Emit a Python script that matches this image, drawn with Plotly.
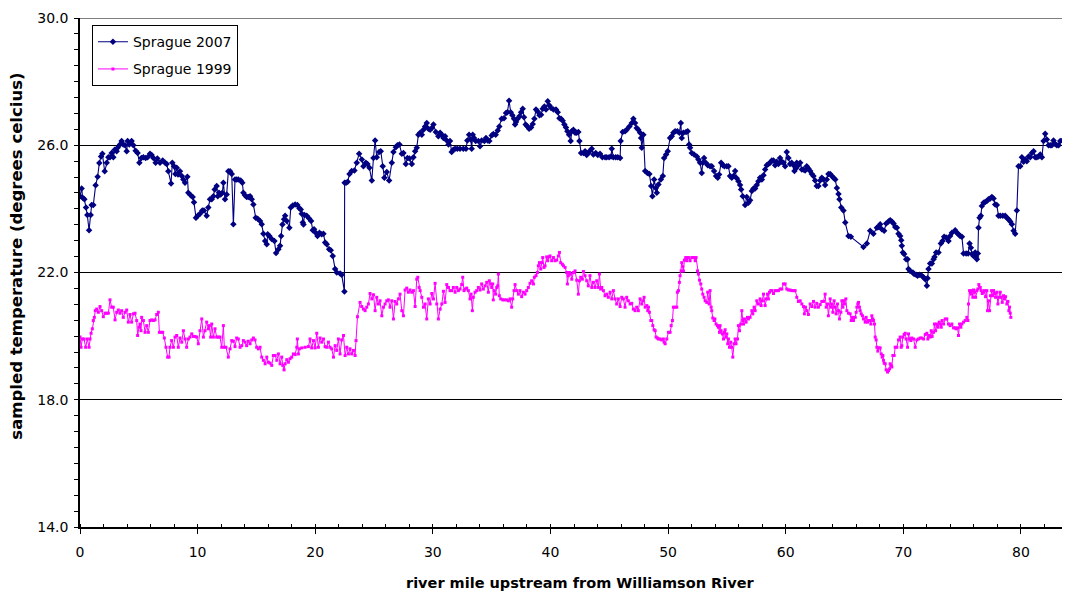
import plotly.graph_objects as go

# ---------------- data ----------------
miles_2007 = [
    0.0, 0.14, 0.23, 0.37, 0.51, 0.62, 0.77, 0.91, 0.99, 1.13, 1.33, 1.50, 1.64, 1.79, 1.90, 2.10, 2.27, 2.41, 2.55, 2.69,
    2.83, 2.95, 3.12, 3.20, 3.40, 3.54, 3.68, 3.83, 3.97, 4.05, 4.19, 4.39, 4.54, 4.73, 4.90, 5.05, 5.22, 5.39, 5.58, 5.75,
    5.95, 6.09, 6.24, 6.43, 6.58, 6.80, 7.03, 7.23, 7.37, 7.51, 7.74, 7.85, 7.99, 8.11, 8.22, 8.33, 8.50, 8.65, 8.79, 8.93,
    9.13, 9.21, 9.41, 9.58, 9.69, 9.86, 10.01, 10.20, 10.40, 10.54, 10.77, 10.91, 11.05, 11.20, 11.34, 11.45, 11.62, 11.71, 11.82, 11.96,
    12.10, 12.19, 12.33, 12.47, 12.61, 12.76, 12.90, 13.04, 13.18, 13.32, 13.46, 13.66, 13.80, 13.89, 14.03, 14.17, 14.31, 14.46, 14.60, 14.74,
    14.94, 15.11,
    15.31, 15.45, 15.59, 15.74, 15.88, 15.96, 16.10, 16.30, 16.53, 16.67, 16.87, 17.01, 17.10, 17.21, 17.35, 17.44, 17.58, 17.80, 17.92, 18.09,
    18.29, 18.48, 18.65, 18.77, 18.85, 18.94, 19.00, 19.08, 19.28, 19.48, 19.65, 19.79, 19.90, 20.04, 20.19, 20.36, 20.55, 20.70, 20.84, 20.98,
    21.18, 21.32, 21.49, 21.69, 21.83, 22.11, 22.25, 22.48, 22.50, 22.62, 22.76, 22.91, 23.10, 23.33, 23.53, 23.73, 23.96, 24.10, 24.30, 24.44,
    24.61, 24.81, 24.95, 25.09, 25.23, 25.43, 25.57, 25.74, 25.88, 26.08, 26.28, 26.51, 26.65, 26.85, 26.99, 27.16, 27.36, 27.50, 27.70, 27.84,
    28.01, 28.21, 28.35, 28.49, 28.63, 28.77, 28.92, 29.06, 29.20, 29.34, 29.48, 29.62, 29.77, 29.91, 30.05, 30.25, 30.47, 30.62, 30.76, 30.90,
    31.04, 31.18, 31.33,
    31.46, 31.60, 31.74, 31.89, 32.08, 32.31, 32.59, 32.82, 32.93, 33.08, 33.22, 33.30, 33.39, 33.50, 33.64, 33.87, 34.01, 34.15, 34.38, 34.52,
    34.66, 34.80, 35.00, 35.14, 35.34, 35.51, 35.65, 35.85, 36.05, 36.22, 36.34, 36.48, 36.62, 36.76, 36.90, 36.99, 37.07, 37.21, 37.36, 37.50,
    37.64, 37.75, 37.89, 38.04, 38.18, 38.35, 38.49, 38.63, 38.77, 38.91, 39.06, 39.20, 39.34, 39.48, 39.62, 39.77, 39.91, 40.05, 40.25, 40.47,
    40.62, 40.76, 40.90, 41.04, 41.18, 41.32, 41.44, 41.58, 41.72, 41.81, 41.95, 42.09, 42.23, 42.37, 42.46, 42.60, 42.80, 42.94, 43.08, 43.22,
    43.36, 43.51, 43.65, 43.85, 44.02, 44.21, 44.41, 44.64, 44.78, 44.98, 45.15, 45.21, 45.35, 45.55, 45.72, 45.92, 45.97, 46.14, 46.34, 46.48,
    46.71, 46.91, 47.05, 47.19, 47.33, 47.47, 47.62, 47.70,
    47.76, 47.90, 48.05, 48.24, 48.41, 48.56, 48.67, 48.81, 48.95, 49.04, 49.18, 49.38, 49.55, 49.66, 49.83, 49.97, 50.17, 50.31, 50.45, 50.60,
    50.79, 50.96, 51.08, 51.16, 51.30, 51.53, 51.67, 51.79, 51.87, 52.01, 52.21, 52.44, 52.58, 52.72, 52.86, 52.95, 53.06, 53.20, 53.37, 53.57,
    53.71, 53.91, 54.08, 54.22, 54.34, 54.51, 54.65, 54.79, 54.99, 55.13, 55.27, 55.41, 55.56, 55.70, 55.84, 55.98, 56.12, 56.21, 56.35, 56.55,
    56.69, 56.83, 56.97, 57.12, 57.26, 57.40, 57.54, 57.68, 57.82, 57.97, 58.11, 58.25, 58.39, 58.53, 58.67, 58.82, 58.96, 59.10, 59.24, 59.38,
    59.52, 59.67, 59.81, 59.95, 60.09, 60.23, 60.37, 60.51, 60.66, 60.74, 60.86, 60.94, 61.08, 61.23, 61.37, 61.51, 61.65, 61.79, 61.93, 62.08,
    62.22, 62.36, 62.50, 62.64, 62.78, 62.93, 63.07, 63.21, 63.35, 63.49, 63.63,
    63.78, 63.92, 64.06, 64.21, 64.35, 64.49, 64.57, 64.72, 64.91, 65.06, 65.34, 65.54, 66.61, 66.90, 67.18, 67.46, 67.75, 67.89, 68.03, 68.17,
    68.37, 68.54, 68.74, 68.88, 69.02, 69.17, 69.31, 69.45, 69.59, 69.73, 69.82, 69.87, 69.96, 70.07, 70.24, 70.36, 70.44, 70.58, 70.81, 70.92,
    71.09, 71.21, 71.38, 71.57, 71.72, 71.86, 72.00, 72.06, 72.14, 72.28, 72.43, 72.57, 72.65, 72.79, 72.99, 73.19, 73.33, 73.47, 73.64, 73.84,
    73.98, 74.13, 74.41, 74.55, 74.69, 74.83, 74.98, 75.12, 75.34, 75.51, 75.63, 75.74, 75.83, 75.97, 76.11, 76.19, 76.25, 76.34, 76.39, 76.48,
    76.59, 76.68, 76.82, 76.96, 77.10, 77.24, 77.39, 77.53, 77.67, 77.81, 77.95, 78.09, 78.24, 78.46, 78.66, 78.80, 78.94, 79.09, 79.23, 79.37,
    79.51, 79.65, 79.79, 79.94, 80.08, 80.22, 80.36, 80.50, 80.65, 80.79, 80.93, 81.07, 81.21, 81.35, 81.50, 81.64, 81.78, 81.92, 82.06, 82.20,
    82.35, 82.49, 82.63, 82.77, 82.91, 83.05, 83.20, 83.34, 83.54,
]

temp_2007 = [
    24.40, 24.64, 24.35, 24.30, 24.04, 23.81, 23.33, 23.81, 24.12, 24.12, 24.74, 25.01, 25.44, 25.65, 25.73, 25.18, 25.45, 25.62, 25.62, 25.76,
    25.62, 25.86, 25.81, 25.92, 26.02, 26.13, 26.02, 26.00, 25.81, 26.13, 26.02, 26.13, 26.00, 25.83, 25.76, 25.45, 25.60, 25.62, 25.60, 25.62,
    25.73, 25.69, 25.60, 25.45, 25.58, 25.45, 25.52, 25.45, 25.41, 25.18, 24.80, 25.45, 25.34, 25.10, 25.29, 25.08, 25.18, 25.03, 24.92, 24.82,
    25.01, 24.51, 24.43, 24.37, 24.21, 23.72, 23.78, 23.85, 23.95, 23.95, 23.78, 24.04, 24.30, 24.30, 24.40, 24.61, 24.72, 24.40, 24.51, 24.45,
    24.51, 24.82, 24.30, 24.45, 25.18, 25.18, 25.10, 23.52, 24.92, 24.92, 24.92, 24.89, 24.82, 24.51, 24.43, 24.37, 24.37, 24.40, 24.30, 24.14,
    23.72, 23.69,
    23.62, 23.52, 23.22, 22.99, 22.89, 23.20, 23.15, 23.05, 22.99, 22.61, 22.73, 22.84, 23.15, 23.51, 23.67, 23.78, 23.62, 23.41, 24.04, 24.11,
    24.14, 24.12, 24.02, 23.98, 23.85, 23.57, 23.51, 23.81, 23.78, 23.70, 23.62, 23.33, 23.36, 23.25, 23.15, 23.25, 23.20, 23.22, 22.94, 22.89,
    22.73, 22.70, 22.52, 22.11, 22.00, 21.97, 21.93, 21.40, 24.82, 24.82, 24.85, 25.10, 25.19, 25.21, 25.45, 25.73, 25.55, 25.34, 25.45, 25.41,
    25.29, 24.89, 25.60, 26.15, 25.62, 25.79, 25.81, 25.34, 24.98, 25.16, 24.89, 25.45, 25.79, 25.94, 26.00, 26.02, 25.73, 25.76, 25.41, 25.60,
    25.58, 25.41, 25.62, 25.81, 25.92, 26.33, 26.39, 26.33, 26.49, 26.59, 26.70, 26.52, 26.49, 26.54, 26.65, 26.42, 26.28, 26.39, 26.33, 26.23,
    26.28, 26.15, 26.02,
    26.13, 25.79, 25.86, 25.89, 25.89, 25.89, 25.89, 25.89, 26.15, 26.33, 26.18, 25.89, 26.33, 26.23, 26.13, 26.13, 25.97, 26.15, 26.13, 26.23,
    26.15, 26.13, 26.31, 26.35, 26.33, 26.46, 26.59, 26.83, 26.85, 27.01, 27.04, 27.40, 27.04, 26.94, 26.83, 26.65, 26.73, 26.83, 26.91, 27.04,
    27.15, 26.88, 26.65, 26.59, 26.52, 26.56, 26.67, 26.83, 27.12, 27.06, 26.94, 26.96, 27.15, 27.22, 27.12, 27.38, 27.25, 27.17, 27.12, 27.12,
    27.04, 26.85, 26.83, 26.77, 26.65, 26.56, 26.44, 26.33, 26.13, 26.44, 26.49, 26.39, 26.39, 26.42, 26.13, 25.76, 25.76, 25.81, 25.69, 25.76,
    25.83, 25.89, 25.71, 25.76, 25.69, 25.73, 25.62, 25.62, 25.62, 25.62, 25.65, 25.89, 25.62, 25.62, 25.62, 25.60, 26.13, 26.42, 26.44, 26.49,
    26.59, 26.70, 26.83, 26.70, 26.54, 26.49, 26.39, 26.23,
    25.92, 26.33, 25.19, 25.13, 25.10, 24.72, 24.40, 24.92, 24.66, 24.51, 24.77, 24.92, 25.03, 25.60, 25.71, 25.81, 26.23, 26.28, 26.39, 26.44,
    26.44, 26.39, 26.70, 26.23, 26.39, 26.42, 26.44, 26.02, 25.92, 25.76, 25.71, 25.65, 25.55, 25.45, 25.13, 25.45, 25.60, 25.45, 25.37, 25.34,
    25.34, 25.19, 25.03, 24.98, 25.08, 25.45, 25.37, 25.34, 25.34, 25.34, 25.03, 24.98, 25.03, 25.19, 24.96, 24.87, 24.75, 24.61, 24.40, 24.12,
    24.37, 24.19, 24.27, 24.56, 24.64, 24.64, 24.75, 24.87, 24.98, 24.92, 25.06, 25.24, 25.37, 25.41, 25.45, 25.52, 25.52, 25.37, 25.48, 25.41,
    25.60, 25.48, 25.45, 25.34, 25.79, 25.60, 25.41, 25.45, 25.37, 25.19, 25.27, 25.45, 25.37, 25.45, 25.24, 25.24, 25.21, 25.34, 25.27, 25.19,
    25.10, 25.03, 24.89, 24.72, 24.72, 24.89, 24.98, 24.92, 24.75, 24.92, 25.10,
    25.10, 25.03, 24.98, 24.92, 24.66, 24.47, 24.30, 24.04, 23.95, 23.57, 23.15, 23.12, 22.80, 22.91, 23.31, 23.22, 23.41, 23.43, 23.52, 23.36,
    23.31, 23.54, 23.60, 23.64, 23.60, 23.54, 23.43, 23.41, 23.22, 23.15, 23.01, 22.84, 22.63, 22.58, 22.42, 22.42, 22.11, 22.05, 22.00, 21.95,
    21.93, 21.90, 21.93, 21.90, 21.85, 21.79, 21.58, 21.82, 22.11, 22.28, 22.28, 22.42, 22.49, 22.63, 22.63, 22.91, 22.99, 23.12, 23.10, 22.99,
    23.15, 23.25, 23.33, 23.25, 23.20, 23.15, 23.12, 22.60, 22.60, 22.60, 22.91, 22.78, 22.58, 22.52, 22.63, 22.49, 22.42, 22.60, 23.41, 23.72,
    23.78, 24.09, 24.19, 24.22, 24.25, 24.30, 24.33, 24.37, 24.33, 24.14, 24.12, 23.78, 23.78, 23.78, 23.78, 23.72, 23.67, 23.60, 23.52, 23.31,
    23.22, 23.95, 25.34, 25.34, 25.62, 25.48, 25.55, 25.50, 25.65, 25.62, 25.76, 25.81, 25.62, 25.62, 25.65, 25.71, 25.62, 26.13, 26.36, 26.18,
    26.00, 26.00, 26.00, 26.15, 26.04, 26.00, 26.00, 26.13, 26.15,
]

miles_1999 = [
    0.00, 0.09, 0.20, 0.34, 0.48, 0.62, 0.77, 0.85, 0.94, 1.05, 1.13, 1.22, 1.30, 1.42, 1.56, 1.70, 1.84, 1.98, 2.13, 2.27,
    2.41, 2.55, 2.69, 2.83, 2.98, 3.12, 3.26, 3.40, 3.54, 3.68, 3.83, 3.97, 4.11, 4.25, 4.39, 4.54, 4.68, 4.82, 4.90, 5.02,
    5.10, 5.19, 5.24, 5.39, 5.53, 5.67, 5.81, 5.95, 6.09, 6.24, 6.38, 6.52, 6.66, 6.75, 6.89, 7.03, 7.17, 7.31, 7.45, 7.57,
    7.65, 7.79, 7.94, 8.08, 8.22, 8.36, 8.50, 8.65, 8.79, 8.93, 9.07, 9.21, 9.35, 9.50, 9.64, 9.78, 9.92, 10.06, 10.20, 10.35,
    10.49, 10.63, 10.77, 10.91, 11.00, 11.11, 11.20, 11.34, 11.48, 11.62, 11.76, 11.90, 12.05, 12.19, 12.27, 12.41, 12.61, 12.76, 12.90, 13.04,
    13.18, 13.32, 13.46, 13.61, 13.75, 13.89, 14.03, 14.17, 14.31, 14.46, 14.60, 14.74, 14.88, 15.02, 15.16, 15.31,
    15.45, 15.59, 15.74, 15.88, 16.02, 16.16, 16.30, 16.44, 16.59, 16.73, 16.87, 17.01, 17.15, 17.24, 17.35, 17.44, 17.58, 17.72, 17.86, 18.00,
    18.14, 18.29, 18.43, 18.48, 18.57, 18.65, 18.85, 19.14, 19.42, 19.56, 19.70, 19.85, 19.99, 20.13, 20.27, 20.41, 20.55, 20.70, 20.84, 20.98,
    21.12, 21.26, 21.40, 21.55, 21.69, 21.83, 21.97, 22.11, 22.25, 22.40, 22.54, 22.68, 22.82, 22.96, 23.10, 23.25, 23.39, 23.47, 23.59, 23.81,
    23.95, 24.10, 24.24, 24.38, 24.52, 24.66, 24.81, 24.95, 25.09, 25.23, 25.37, 25.51, 25.66, 25.80, 25.94, 26.08, 26.22, 26.36, 26.51, 26.65,
    26.79, 26.93, 27.07, 27.21, 27.36, 27.50, 27.64, 27.78, 27.92, 28.06, 28.21, 28.35, 28.49, 28.63, 28.72, 28.83, 28.92, 29.06, 29.20, 29.34,
    29.48, 29.62, 29.77, 29.91, 30.05, 30.19, 30.33, 30.47, 30.62, 30.76, 30.90, 31.04, 31.18, 31.33,
    31.46, 31.60, 31.74, 31.89, 32.03, 32.17, 32.31, 32.45, 32.54, 32.65, 32.74, 32.88, 33.02, 33.16, 33.25, 33.36, 33.44, 33.59, 33.73, 33.87,
    34.01, 34.15, 34.29, 34.44, 34.58, 34.72, 34.80, 34.92, 35.00, 35.09, 35.14, 35.23, 35.34, 35.43, 35.51, 35.57, 35.65, 35.77, 35.94, 36.08,
    36.28, 36.42, 36.56, 36.70, 36.79, 36.90, 36.99, 37.13, 37.27, 37.41, 37.55, 37.70, 37.84, 37.98, 38.12, 38.26, 38.40, 38.55, 38.63, 38.77,
    38.89, 38.97, 39.06, 39.17, 39.25, 39.34, 39.45, 39.54, 39.68, 39.76, 39.88, 39.96, 40.10, 40.25, 40.39, 40.53, 40.67, 40.76, 40.87, 41.01,
    41.10, 41.24, 41.38, 41.44, 41.52, 41.61, 41.72, 41.81, 41.95, 42.09, 42.23, 42.37, 42.46, 42.57, 42.71, 42.80, 42.94, 43.08, 43.22, 43.36,
    43.51, 43.65, 43.79, 43.93, 44.07, 44.16, 44.27, 44.36, 44.50, 44.64, 44.78, 44.92, 45.07, 45.21, 45.35, 45.49, 45.63, 45.77, 45.92, 46.06,
    46.20, 46.34, 46.48, 46.62, 46.77, 46.91, 47.05, 47.19, 47.33, 47.47,
    47.62, 47.76, 47.85, 47.96, 48.05, 48.19, 48.27, 48.33, 48.41, 48.53, 48.61, 48.70, 48.81, 48.90, 48.98, 49.09, 49.18, 49.32, 49.46, 49.60,
    49.66, 49.75, 49.89, 50.03, 50.17, 50.26, 50.37, 50.45, 50.60, 50.74, 50.79, 50.88, 50.96, 51.02, 51.11, 51.16, 51.25, 51.30, 51.39, 51.50,
    51.59, 51.73, 51.87, 52.01, 52.16, 52.30, 52.38, 52.50, 52.58, 52.67, 52.78, 52.86, 52.95, 53.06, 53.15, 53.29, 53.37, 53.49, 53.57, 53.66,
    53.71, 53.80, 53.91, 53.98, 54.08, 54.20, 54.28, 54.37, 54.42, 54.51, 54.62, 54.71, 54.79, 54.85, 54.93, 54.99, 55.07, 55.13, 55.22, 55.33,
    55.41, 55.50, 55.61, 55.70, 55.78, 55.90, 55.98, 56.07, 56.18, 56.27, 56.35, 56.41, 56.49, 56.63, 56.75, 56.83, 56.97, 57.12, 57.20, 57.31,
    57.40, 57.54, 57.68, 57.82, 57.91, 58.02, 58.11, 58.25, 58.33, 58.45, 58.53, 58.62, 58.73, 58.82, 58.96, 59.10, 59.24, 59.38, 59.52, 59.67,
    59.81, 59.95, 60.09, 60.23, 60.37, 60.51, 60.66, 60.80, 60.94, 61.08, 61.23, 61.37, 61.51, 61.59, 61.68, 61.79, 61.93, 62.08, 62.22, 62.36,
    62.50, 62.64, 62.78, 62.93, 63.07, 63.21, 63.35, 63.44, 63.55, 63.63,
    63.78, 63.87, 63.92, 64.01, 64.12, 64.21, 64.29, 64.40, 64.49, 64.57, 64.69, 64.77, 64.86, 64.91, 65.00, 65.11, 65.20, 65.34, 65.48, 65.57,
    65.68, 65.76, 65.91, 65.99, 66.05, 66.13, 66.19, 66.27, 66.33, 66.42, 66.53, 66.61, 66.76, 66.84, 66.95, 67.04, 67.18, 67.24, 67.32, 67.41,
    67.46, 67.55, 67.61, 67.69, 67.75, 67.83, 67.92, 68.03, 68.12, 68.20, 68.26, 68.31, 68.37, 68.46, 68.54, 68.66, 68.74, 68.83, 68.88, 68.97,
    69.02, 69.11, 69.22, 69.31, 69.45, 69.59, 69.73, 69.82, 69.87, 69.96, 70.07, 70.16, 70.24, 70.36, 70.44, 70.53, 70.64, 70.72, 70.87, 71.01,
    71.15, 71.29, 71.43, 71.57, 71.72, 71.86, 72.00, 72.08, 72.17, 72.28, 72.37, 72.45, 72.57, 72.65, 72.74, 72.85, 72.94, 73.05, 73.13, 73.22,
    73.30, 73.42, 73.56, 73.70, 73.84, 73.98, 74.13, 74.27, 74.41, 74.49, 74.61, 74.69, 74.78, 74.89, 74.98, 75.12, 75.26, 75.40, 75.49, 75.54,
    75.63, 75.69, 75.77, 75.83, 75.91, 75.97, 76.05, 76.14, 76.25, 76.34, 76.42, 76.54, 76.62, 76.71, 76.82, 76.90, 76.99, 77.10, 77.16, 77.24,
    77.33, 77.41, 77.50, 77.58, 77.67, 77.75, 77.84, 77.95, 78.04, 78.12, 78.24, 78.32, 78.41, 78.52, 78.60, 78.69, 78.80, 78.89, 78.97, 79.03,
    79.09, 79.14,
]

temp_1999 = [
    19.97, 19.65, 19.91, 19.91, 19.65, 19.91, 19.65, 19.91, 20.09, 20.23, 20.49, 20.59, 20.80, 20.85, 20.75, 20.93, 20.80, 20.61, 20.72, 20.72,
    20.72, 21.14, 20.91, 20.91, 20.51, 20.75, 20.82, 20.72, 20.80, 20.59, 20.75, 20.82, 20.44, 20.68, 20.44, 20.70, 20.72, 20.49, 20.02, 20.28,
    20.38, 20.17, 20.59, 20.49, 20.12, 20.33, 20.12, 20.49, 20.51, 20.49, 20.51, 20.68, 20.75, 20.12, 20.12, 20.12, 19.94, 19.65, 19.34, 19.34,
    19.65, 19.86, 19.65, 19.97, 20.02, 19.65, 19.94, 19.81, 20.17, 19.91, 19.65, 19.91, 19.97, 20.07, 19.99, 19.99, 19.97, 19.76, 20.17, 20.54,
    19.97, 20.17, 20.44, 20.23, 20.33, 19.97, 20.38, 19.97, 20.23, 19.97, 19.97, 19.97, 19.65, 20.33, 19.65, 19.65, 19.34, 19.60, 19.86, 19.84,
    19.67, 19.94, 19.91, 19.65, 19.70, 19.86, 19.81, 19.70, 19.84, 19.76, 19.88, 19.94, 19.88, 19.65, 19.60, 19.65,
    19.34, 19.24, 19.13, 19.34, 19.18, 19.15, 19.08, 19.39, 19.39, 19.24, 19.44, 19.13, 19.34, 19.08, 18.94, 19.13, 19.26, 19.18, 19.29, 19.34,
    19.44, 19.42, 19.65, 19.91, 19.44, 19.60, 19.63, 19.65, 19.67, 19.91, 19.63, 19.86, 19.63, 20.09, 19.65, 19.94, 19.81, 19.91, 19.67, 19.65,
    19.81, 19.65, 19.60, 19.34, 19.70, 19.55, 19.91, 19.44, 19.88, 20.02, 19.39, 19.65, 19.44, 19.60, 19.44, 19.55, 19.39, 19.86, 20.61, 21.06,
    20.93, 20.85, 20.80, 20.91, 21.01, 21.34, 21.17, 21.30, 20.80, 21.22, 21.01, 21.11, 20.64, 20.91, 21.01, 21.11, 21.14, 20.91, 21.11, 20.54,
    21.09, 21.01, 21.17, 21.32, 20.80, 20.64, 21.45, 21.51, 21.38, 21.45, 21.38, 21.43, 20.93, 21.79, 21.85, 21.53, 21.43, 21.22, 20.91, 21.01,
    20.54, 21.17, 21.01, 21.34, 21.17, 21.66, 21.01, 20.54, 20.85, 21.01, 21.41, 21.06, 21.62, 21.53,
    21.43, 21.43, 21.53, 21.38, 21.53, 21.43, 21.48, 21.62, 21.85, 21.43, 21.48, 21.51, 21.43, 21.17, 21.32, 20.80, 21.22, 21.38, 21.43, 21.53,
    21.45, 21.64, 21.48, 21.58, 21.69, 21.38, 21.74, 21.64, 21.53, 21.64, 21.14, 21.43, 21.32, 21.53, 21.58, 21.95, 21.27, 21.17, 21.14, 21.14,
    21.14, 21.11, 21.17, 20.91, 21.17, 21.43, 21.62, 21.43, 21.32, 21.43, 21.24, 21.38, 21.32, 21.43, 21.53, 21.66, 21.74, 21.64, 21.85, 21.90,
    22.00, 22.21, 22.31, 22.11, 22.31, 22.47, 22.16, 22.21, 22.49, 22.37, 22.49, 22.52, 22.37, 22.47, 22.37, 22.39, 22.52, 22.63, 22.31, 22.26,
    22.21, 22.16, 22.00, 21.64, 21.90, 22.00, 21.95, 21.79, 22.00, 22.05, 21.76, 21.32, 21.74, 21.85, 21.79, 22.03, 21.90, 21.74, 21.58, 21.90,
    21.53, 21.69, 21.53, 21.74, 21.53, 21.95, 21.48, 21.53, 21.43, 21.27, 21.32, 21.22, 21.38, 21.17, 21.43, 21.17, 21.01, 21.17, 20.93, 21.22,
    21.17, 20.91, 21.22, 21.11, 21.01, 21.03, 20.85, 20.80, 20.91, 20.80,
    21.17, 21.01, 21.11, 21.22, 20.91, 20.96, 20.80, 20.91, 20.75, 20.49, 20.49, 20.33, 20.20, 20.17, 19.97, 19.94, 19.91, 19.91, 19.88, 19.91,
    19.81, 19.76, 19.91, 20.12, 20.12, 20.33, 20.49, 20.91, 20.91, 20.91, 21.38, 21.43, 21.69, 21.90, 22.05, 22.31, 22.18, 22.05, 22.39, 22.47,
    22.37, 22.47, 22.37, 22.47, 22.47, 22.37, 22.47, 22.05, 21.95, 21.76, 21.64, 21.48, 21.32, 21.22, 21.11, 21.06, 21.38, 21.01, 21.43, 20.91,
    20.80, 20.57, 20.49, 20.54, 20.38, 20.33, 20.28, 20.12, 20.33, 20.17, 20.07, 19.91, 20.12, 20.20, 19.97, 20.07, 19.76, 19.91, 19.65, 19.81,
    19.65, 19.34, 19.76, 19.91, 19.76, 19.91, 20.33, 20.17, 20.38, 20.80, 20.49, 20.38, 20.54, 20.44, 20.59, 20.54, 20.59, 20.80, 20.70, 20.91,
    20.80, 21.11, 21.01, 21.17, 20.96, 21.11, 21.32, 20.96, 21.17, 21.32, 21.17, 21.38, 21.43, 21.43, 21.34, 21.43, 21.43, 21.43, 21.48, 21.48,
    21.64, 21.64, 21.48, 21.45, 21.45, 21.43, 21.43, 21.43, 21.22, 21.09, 21.11, 21.01, 20.93, 20.70, 20.91, 20.80, 20.68, 21.01, 20.93, 21.09,
    20.91, 21.03, 20.91, 20.99, 21.09, 21.09, 21.32, 20.91, 21.01, 20.64,
    21.17, 20.91, 21.01, 20.75, 21.11, 20.91, 20.70, 21.01, 20.80, 20.54, 20.75, 21.11, 20.91, 21.11, 21.01, 21.17, 20.80, 20.72, 20.70, 20.49,
    20.59, 20.49, 20.59, 20.75, 20.91, 21.01, 21.06, 20.91, 20.80, 20.70, 20.64, 20.54, 20.44, 20.59, 20.44, 20.49, 20.49, 20.38, 20.64, 20.54,
    20.49, 20.38, 19.97, 19.88, 19.65, 19.53, 19.63, 19.63, 19.44, 19.34, 19.39, 19.24, 19.15, 19.13, 18.94, 18.87, 18.92, 18.97, 19.13, 19.08,
    19.03, 19.39, 19.39, 19.65, 19.65, 19.88, 19.97, 19.65, 19.70, 19.97, 20.05, 20.09, 19.91, 19.65, 20.07, 19.91, 19.86, 19.94, 19.91, 19.65,
    19.88, 19.91, 19.94, 19.94, 19.91, 20.05, 20.09, 19.91, 20.02, 19.97, 20.17, 19.99, 20.12, 20.38, 20.17, 20.38, 20.28, 20.44, 20.38, 20.28,
    20.49, 20.38, 20.54, 20.54, 20.38, 20.33, 20.38, 20.26, 20.26, 20.23, 20.26, 20.02, 20.38, 20.28, 20.38, 20.44, 20.49, 20.59, 20.49, 21.01,
    21.43, 21.38, 21.32, 21.43, 21.22, 21.45, 21.38, 21.22, 21.43, 21.48, 21.62, 21.53, 21.43, 21.34, 21.38, 21.43, 21.24, 21.43, 20.80, 21.11,
    20.80, 21.27, 21.43, 21.27, 21.43, 21.34, 21.22, 21.38, 21.01, 21.22, 21.38, 21.22, 21.06, 21.27, 21.17, 21.24, 21.01, 21.09, 20.80, 20.91,
    20.72, 20.59,
]

series_names = ["Sprague 2007", "Sprague 1999"]
x_ticks = [0, 10, 20, 30, 40, 50, 60, 70, 80]
y_ticks = [14.0, 18.0, 22.0, 26.0, 30.0]
x_title = "river mile upstream from Williamson River"
y_title = "sampled temperature (degrees celcius)"

# ---------------- figure ----------------
FONT = "DejaVu Sans, Arial, sans-serif"

fig = go.Figure()
fig.add_trace(go.Scatter(
    x=miles_2007, y=temp_2007, name=series_names[0], legendgroup="a",
    mode="lines+markers",
    line=dict(color="#000080", width=1.1),
    marker=dict(symbol="diamond", size=5, color="#000080"),
))
fig.add_trace(go.Scatter(
    x=miles_1999, y=temp_1999, name=series_names[1], legendgroup="b",
    mode="lines+markers",
    line=dict(color="#FF00FF", width=1),
    marker=dict(symbol="square", size=3, color="#FF00FF"),
))

# top gridline (at the upper end of the value axis)
fig.add_shape(type="line", xref="paper", yref="y",
              x0=0, x1=1, y0=y_ticks[-1], y1=y_ticks[-1],
              line=dict(color="black", width=1), layer="below")

# The page body has an 8px default margin, so the figure is drawn 8px in
# from the top-left corner of the window; size and margins account for it.
fig.update_layout(
    width=1062, height=586,
    margin=dict(l=72, r=2, t=8, b=67),
    paper_bgcolor="white", plot_bgcolor="white",
    font=dict(family=FONT, size=14, color="black"),
    showlegend=True,
    legend=dict(
        x=0.0121, y=0.986, xanchor="left", yanchor="top",
        bgcolor="white", bordercolor="black", borderwidth=1,
        font=dict(family=FONT, size=14, color="black"),
        tracegroupgap=6,
    ),
    xaxis=dict(
        range=[0, 84], tickmode="array", tickvals=x_ticks,
        ticktext=[str(v) for v in x_ticks],
        showline=True, linecolor="black", linewidth=1.5,
        ticks="outside", ticklen=5, tickcolor="black", tickwidth=1,
        minor=dict(dtick=2, tick0=0, ticks="inside", ticklen=3, tickcolor="black", showgrid=False),
        showgrid=False, zeroline=False,
        tickfont=dict(family=FONT, size=14, color="black"),
        ticklabelstandoff=6,
    ),
    yaxis=dict(
        range=[14, 30], tickmode="array", tickvals=y_ticks,
        ticktext=[f"{v:.1f}" for v in y_ticks],
        showline=True, linecolor="black", linewidth=1.5,
        ticks="outside", ticklen=4, tickcolor="black", tickwidth=1,
        minor=dict(dtick=0.5, tick0=14, ticks="outside", ticklen=4, tickcolor="black", showgrid=False),
        showgrid=True, gridcolor="black", gridwidth=1,
        zeroline=False,
        tickfont=dict(family=FONT, size=14, color="black"),
        ticklabelstandoff=3,
        ticklabeloverflow="allow",
    ),
    annotations=[
        dict(text=f"<b>{x_title}</b>", xref="paper", yref="paper",
             x=0.506, y=-0.110, xanchor="center", yanchor="middle",
             showarrow=False, font=dict(family=FONT, size=14.5, color="black")),
        dict(text=f"<b>{y_title}</b>", xref="paper", yref="paper",
             x=-0.0638, y=0.533, xanchor="center", yanchor="middle", textangle=-90,
             showarrow=False, font=dict(family=FONT, size=16.5, color="black")),
    ],
)

fig.write_html("out.html")
